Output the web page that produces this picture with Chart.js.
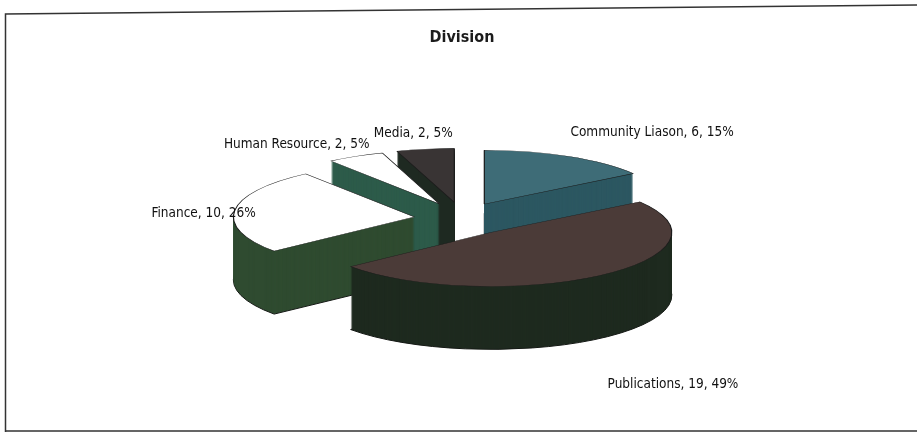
<!DOCTYPE html>
<html>
<head>
<meta charset="utf-8">
<script src="https://cdn.jsdelivr.net/npm/chart.js@4.4.0/dist/chart.umd.min.js"></script>
<style>
  html, body { margin: 0; padding: 0; background: #fff; }
  #wrap { position: relative; width: 917px; height: 432px; }
</style>
</head>
<body>
<div id="wrap"><canvas id="chart" width="917" height="432"></canvas></div>
<script>
const TITLE = 'Division';
const CATEGORIES = ['Community Liason', 'Publications', 'Finance', 'Human Resource', 'Media'];
const VALUES = [6, 19, 10, 2, 2];

const TOP_COLORS  = ['#3e6c77', '#4b3b38', '#ffffff', '#ffffff', '#393434'];
const SIDE_COLORS = ['#2c5761', '#1e2a1f', '#2f4b30', '#2d5b4a', '#1e2921'];

// faux 3D: tilt of the disc, thickness and explosion (screen px)
const SCENE = { cx: 462, cy: 219, tilt: 0.298, depth: 63, explode: 48, explodeY: 0.35 };
// label anchor tweaks relative to the rim point of each slice
const LABEL_NUDGE = [[2, -24], [8, 46], [21, 3], [14, -12], [-12, -16]];
const LABEL_ALIGN = ['left', 'left', 'right', 'right', 'center'];
const FONT = '"DejaVu Sans Condensed", "Liberation Sans", sans-serif';

const total = VALUES.reduce((a, b) => a + b, 0);

function sliceOffset(mid) {
  return {
    x: SCENE.explode * Math.cos(mid),
    y: SCENE.explode * SCENE.explodeY * Math.sin(mid),
  };
}

const pie3d = {
  id: 'pie3d',
  beforeDraw(chart) {
    // scanned frame around the chart
    const ctx = chart.ctx;
    ctx.save();
    ctx.strokeStyle = '#333';
    ctx.lineWidth = 1.5;
    ctx.beginPath();
    ctx.moveTo(917, 5);
    ctx.lineTo(5.5, 14);
    ctx.lineTo(5.5, 432);
    ctx.moveTo(5, 431);
    ctx.lineTo(917, 431);
    ctx.stroke();
    ctx.restore();
  },
  beforeDatasetDraw(chart, args) {
    const ctx = chart.ctx;
    const s = SCENE;
    const items = args.meta.data.map((arc, i) => ({ arc, i, mid: (arc.startAngle + arc.endAngle) / 2 }));
    // back to front
    items.sort((a, b) => Math.sin(a.mid) - Math.sin(b.mid));

    items.forEach(({ arc, i, mid }) => {
      const off = sliceOffset(mid);
      const place = (dy) => {
        ctx.translate(s.cx - arc.x + off.x, s.cy + off.y + dy);
        ctx.scale(1, s.tilt);
        ctx.translate(0, -arc.y);
      };
      const wedge = () => {
        ctx.beginPath();
        ctx.moveTo(arc.x, arc.y);
        ctx.arc(arc.x, arc.y, arc.outerRadius, arc.startAngle, arc.endAngle);
        ctx.closePath();
      };
      // side walls: stack the wedge downward, outline the lowest one
      for (let d = s.depth; d > 0; d--) {
        ctx.save();
        place(d);
        wedge();
        ctx.fillStyle = SIDE_COLORS[i];
        ctx.fill();
        if (d === s.depth) {
          ctx.setTransform(1, 0, 0, 1, 0, 0);
          ctx.strokeStyle = '#141814';
          ctx.lineWidth = 1;
          ctx.stroke();
        }
        ctx.restore();
      }
      // top face drawn by the arc element itself
      ctx.save();
      place(0);
      arc.draw(ctx);
      ctx.restore();
    });
    return false;
  },
  afterDatasetsDraw(chart) {
    const ctx = chart.ctx;
    const s = SCENE;
    const meta = chart.getDatasetMeta(0);
    ctx.save();
    ctx.font = '13.5px ' + FONT;
    ctx.fillStyle = '#111';
    ctx.textBaseline = 'middle';
    meta.data.forEach((arc, i) => {
      const mid = (arc.startAngle + arc.endAngle) / 2;
      const off = sliceOffset(mid);
      let x = s.cx + off.x + arc.outerRadius * Math.cos(mid);
      let y = s.cy + off.y + arc.outerRadius * s.tilt * Math.sin(mid);
      if (Math.sin(mid) > 0) y += s.depth;
      x += LABEL_NUDGE[i][0];
      y += LABEL_NUDGE[i][1];
      const pct = Math.round(VALUES[i] / total * 100);
      ctx.textAlign = LABEL_ALIGN[i];
      ctx.fillText(`${CATEGORIES[i]}, ${VALUES[i]}, ${pct}%`, x, y);
    });
    ctx.restore();
  },
};

new Chart(document.getElementById('chart'), {
  type: 'pie',
  data: {
    labels: CATEGORIES,
    datasets: [{
      data: VALUES,
      backgroundColor: TOP_COLORS,
      borderColor: '#1c1c1c',
      borderWidth: 1.2,
      radius: 181,
    }],
  },
  options: {
    responsive: false,
    animation: false,
    events: [],
    radius: 181,
    layout: { padding: { top: 20, left: 7, right: 0, bottom: 10 } },
    plugins: {
      legend: { display: false },
      tooltip: { enabled: false },
      title: {
        display: true,
        text: TITLE,
        color: '#1b1b1b',
        font: { family: FONT, size: 16, weight: 'bold' },
        padding: { top: 8, bottom: 10 },
      },
    },
  },
  plugins: [pie3d],
});
</script>
</body>
</html>
